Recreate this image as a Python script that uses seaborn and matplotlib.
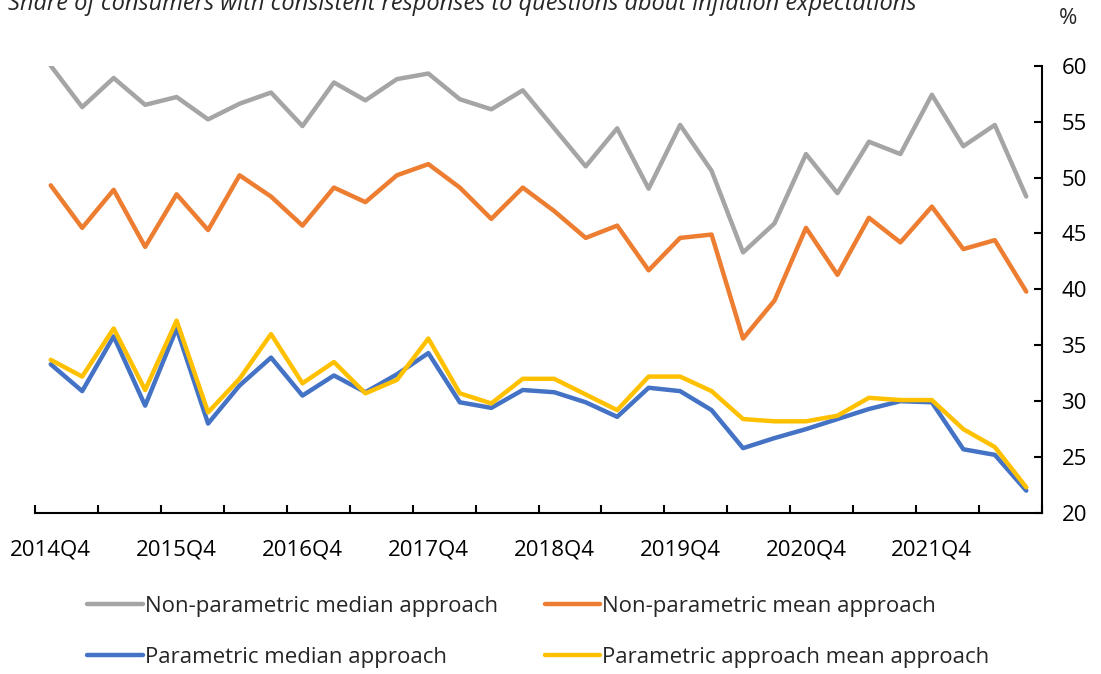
import numpy as np
import pandas as pd
import matplotlib
matplotlib.use('Agg')
import matplotlib.pyplot as plt
import seaborn as sns

sns.set_theme(style='white')
plt.rcParams['font.family'] = ['Open Sans', 'DejaVu Sans']

# ── data ────────────────────────────────────────────────────────────────────
quarters = [f'{y}Q{q}' for y, q in
            [(2014, 4)] + [(y, q) for y in range(2015, 2022) for q in (1, 2, 3, 4)]
            + [(2022, 1), (2022, 2), (2022, 3)]]

np_median = [60.0, 56.3, 58.9, 56.5, 57.2, 55.2, 56.6, 57.6, 54.6, 58.5,
             56.9, 58.8, 59.3, 57.0, 56.1, 57.8, 54.4, 51.0, 54.4, 49.0,
             54.7, 50.6, 43.3, 45.9, 52.1, 48.6, 53.2, 52.1, 57.4, 52.8,
             54.7, 48.3]
np_mean = [49.3, 45.5, 48.9, 43.8, 48.5, 45.3, 50.2, 48.3, 45.7, 49.1,
           47.8, 50.2, 51.2, 49.1, 46.3, 49.1, 47.0, 44.6, 45.7, 41.7,
           44.6, 44.9, 35.6, 39.0, 45.5, 41.3, 46.4, 44.2, 47.4, 43.6,
           44.4, 39.8]
p_median = [33.3, 30.9, 35.8, 29.6, 36.5, 28.0, 31.4, 33.9, 30.5, 32.3,
            30.8, 32.4, 34.3, 29.9, 29.4, 31.0, 30.8, 29.9, 28.6, 31.2,
            30.9, 29.2, 25.8, 26.7, 27.5, 28.4, 29.3, 30.0, 29.9, 25.7,
            25.2, 22.0]
p_mean = [33.7, 32.2, 36.5, 31.0, 37.2, 29.0, 32.0, 36.0, 31.6, 33.5,
          30.7, 31.9, 35.6, 30.7, 29.8, 32.0, 32.0, 30.6, 29.2, 32.2,
          32.2, 30.9, 28.4, 28.2, 28.2, 28.7, 30.3, 30.1, 30.1, 27.5,
          25.9, 22.3]

series_names = ['Non-parametric median approach', 'Non-parametric mean approach',
                'Parametric median approach', 'Parametric approach mean approach']
colors = ['#A5A5A5', '#ED7D31', '#4472C4', '#FFC000']

FS = 16

# long format for seaborn
frames = []
for name, vals in zip(series_names, [np_median, np_mean, p_median, p_mean]):
    frames.append(pd.DataFrame({'idx': np.arange(len(quarters)),
                                'quarter': quarters, 'value': vals,
                                'series': name}))
df = pd.concat(frames, ignore_index=True)

# ── plot ────────────────────────────────────────────────────────────────────
fig = plt.figure(figsize=(11.01, 6.74), dpi=100)
ax = fig.add_axes([35 / 1101, 1 - 513 / 674, (1042 - 35) / 1101, (513 - 65.7) / 674])

sns.lineplot(data=df, x='idx', y='value', hue='series', hue_order=series_names,
             palette=dict(zip(series_names, colors)), lw=3.2, ax=ax,
             legend=True)
handles, labels = ax.get_legend_handles_labels()
ax.get_legend().remove()

ax.set_xlim(-0.5, len(quarters) - 0.5)
ax.set_ylim(20, 60)
ax.yaxis.tick_right()
ax.set_yticks(range(20, 61, 5))
ax.set_xticks(range(0, len(quarters), 4))
ax.set_xticklabels(quarters[::4])
ax.set_xticks(np.arange(-0.5, len(quarters), 2), minor=True)
ax.set_xlabel('')
ax.set_ylabel('')

for side in ['left', 'top']:
    ax.spines[side].set_visible(False)
for side in ['right', 'bottom']:
    ax.spines[side].set_color('black')
    ax.spines[side].set_linewidth(1.5)

ax.tick_params(axis='x', which='major', length=0, pad=19, labelsize=FS, colors='black')
ax.tick_params(axis='x', which='minor', direction='in', length=6, width=1.5,
               color='black', bottom=True)
ax.tick_params(axis='y', direction='in', length=6, width=1.5, pad=14,
               labelsize=FS, colors='black', right=True, left=False)
ax.grid(False)

# the title sits partly above the canvas, as in the source figure
fig.text(8 / 1101, 1 - 10 / 674,
         'Share of consumers with consistent responses to questions about inflation expectations',
         fontsize=17, style='italic', va='baseline', ha='left')
fig.text(1068 / 1101, 1 - 19 / 674, '%', fontsize=FS, ha='center', va='center')

# legend: row 1 = non-parametric, row 2 = parametric
order = [0, 2, 1, 3]
fig.legend([handles[i] for i in order], [labels[i] for i in order], ncol=2,
           loc='center', bbox_to_anchor=(0.489, 1 - 632 / 674),
           frameon=False, fontsize=FS, handlelength=2.5, handletextpad=0.1,
           columnspacing=2.1, labelspacing=1.35)
for h in fig.legends[0].legend_handles:
    h.set_linewidth(3.2)

fig.savefig('out.png', dpi=100)
